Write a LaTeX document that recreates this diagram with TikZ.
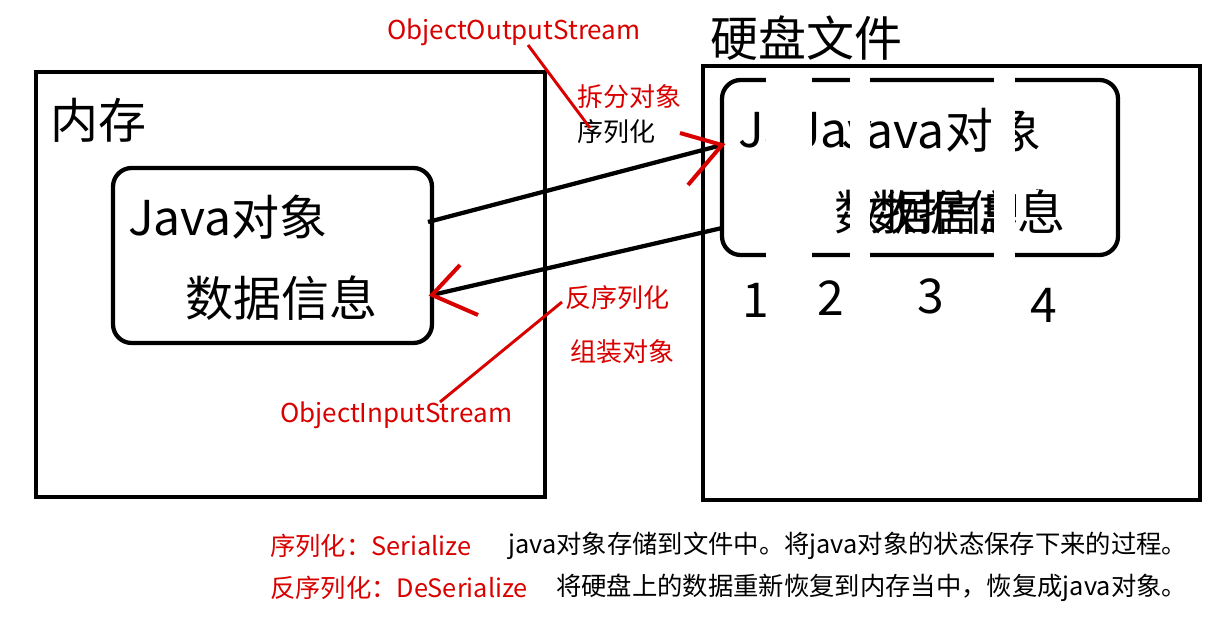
\documentclass[tikz,border=0pt]{standalone}
\usepackage{fontspec}
\setmainfont{Noto Sans CJK SC}
\begin{document}
\begin{tikzpicture}[x=0.75pt,y=-0.75pt,
  box/.style={draw,line width=3.5pt},
  rbox/.style={draw,line width=3.2pt,rounded corners=14pt},
  red/.style={draw=red!85!black,line width=2.2pt},
  big/.style={font=\fontsize{36}{40}\selectfont,inner sep=0,anchor=west},
  sm/.style={text=red!85!black,font=\fontsize{19.5}{22}\selectfont,inner sep=0,anchor=west},
  bt/.style={font=\fontsize{19}{22}\selectfont,inner sep=0,anchor=west}]
\useasboundingbox (0,0) rectangle (1228,623);
\draw[box] (36,72) rectangle (545,497);
\draw[box] (703,66) rectangle (1200,500);
\node[big] (mem) at (50,120) {内存};
\node[big] (disk) at (710,38) {硬盘文件};
\draw[rbox] (113,168) rectangle (432,343);
\node[big] (j1) at (128,217) {Java对象};
\node[big] (d1) at (185,298) {数据信息};
\draw[rbox] (722,80) rectangle (1118,255);
\node[big] (j2a) at (738,130) {Ja};
\node[big] (j2b) at (795,130) {Jav};
\node[big] (j2c) at (841,130) {Java对象};
\node[big] (d2a) at (834,212) {数据信息};
\node[big] (d2b) at (870,212) {数据信息};
\fill[white] (766,70) rectangle (812,262);
\fill[white] (850,70) rectangle (870,262);
\fill[white] (994,70) rectangle (1015,262);
\fill[white] (700,100) rectangle (718,240);
\fill[white] (1016,190) rectangle (1080,240);
\node[big] (d2c) at (1017,212) {息};
\node[big] (n1) at (742,300) {1};
\node[big] (n2) at (817,298) {2};
\node[big] (n3) at (917,296) {3};
\node[big] (n4) at (1030,305) {4};
\draw[line width=3.2pt] (703,100) -- (703,240);
\coordinate (a1) at (428,222); \coordinate (a2) at (722,145);
\coordinate (b1) at (722,228); \coordinate (b2) at (432,295);
\draw[line width=3.2pt] (a1) -- (a2);
\draw[line width=3.2pt] (b1) -- (b2);
\draw[red,line width=3pt] (680,133) -- (a2) -- (688,185);
\draw[red,line width=3pt] (460,265) -- (b2) -- (478,315);
\node[sm] (oos) at (387,32) {ObjectOutputStream};
\node[sm] (cf) at (577,97) {拆分对象};
\node[sm,text=black] (xl) at (577,132) {序列化};
\node[sm] (fx) at (565,298) {反序列化};
\node[sm] (zz) at (570,352) {组装对象};
\node[sm] (ois) at (280,415) {ObjectInputStream};
\coordinate (r1) at (528,45); \coordinate (r2) at (590,128);
\coordinate (r3) at (440,402); \coordinate (r4) at (562,302);
\draw[red] (r1) -- (r2);
\draw[red] (r3) -- (r4);
\node[bt,text=red!85!black] (s1) at (270,546) {序列化：Serialize};
\node[bt] (s2) at (508,546) {java对象存储到文件中。将java对象的状态保存下来的过程。};
\node[bt,text=red!85!black] (s3) at (270,588) {反序列化：DeSerialize};
\node[bt] (s4) at (556,588) {将硬盘上的数据重新恢复到内存当中，恢复成java对象。};
\end{tikzpicture}
\end{document}
